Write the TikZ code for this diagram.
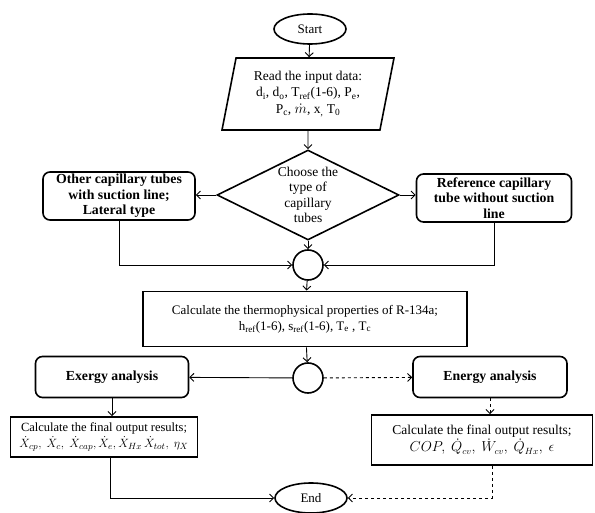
\documentclass[tikz,border=0pt]{standalone}
\usepackage{amsmath}
\usepackage{amssymb}
\usepackage{fontspec}
\setmainfont{Liberation Serif}
\usetikzlibrary{arrows.meta,shapes.geometric,positioning}

\begin{document}
\begin{tikzpicture}[->,>={Straight Barb[length=4pt,width=8pt]},x=1pt,y=-1pt,
      line width=0.9pt,font=\fontsize{13}{16}\selectfont,
      term/.style={ellipse,draw,line width=1.6pt,minimum width=72pt,minimum height=30pt,inner sep=0pt},
      io/.style={trapezium,trapezium left angle=73,trapezium right angle=107,draw,line width=1.6pt,
        align=center,trapezium stretches body,minimum width=172pt,minimum height=72pt,inner sep=0pt,
        font=\fontsize{13.5}{16.5}\selectfont},
      choice/.style={diamond,draw,line width=1.6pt,aspect=2,align=center,inner sep=0pt,
        minimum width=182pt,minimum height=90pt,font=\fontsize{13.5}{15.5}\selectfont},
      rbox/.style={rectangle,rounded corners=7pt,draw,line width=1.6pt,align=center,inner sep=1pt,
        font=\fontsize{13.8}{15.5}\selectfont\bfseries},
      sbox/.style={rectangle,draw,line width=1.9pt,align=center,inner sep=1pt},
      junc/.style={circle,draw,line width=1.6pt,minimum size=30pt,inner sep=0pt},
      dashline/.style={dashed}]
    \useasboundingbox (0,0) rectangle (595,513);
    \node[term] (start) at (310,29) {Start};
    \node[io] (input) at (308,94) {Read the input data:\\
      d\textsubscript{i}, d\textsubscript{o}, T\textsubscript{ref}(1-6), P\textsubscript{e},\\
      P\textsubscript{c}, $\dot{m}$, x\textsubscript{,} T\textsubscript{0}};
    \node[choice] (type) at (308,195) {Choose the\\type of\\capillary\\tubes};
    \node[rbox,minimum width=152pt,minimum height=48pt] (other) at (119,196)
      {Other capillary tubes\\with suction line;\\Lateral type};
    \node[rbox,minimum width=155pt,minimum height=48pt] (ref) at (494,198)
      {Reference capillary\\tube without suction\\line};
    \node[junc] (j1) at (308,265) {};
    \node[sbox,minimum width=324pt,minimum height=55pt] (props) at (305,319)
      {Calculate the thermophysical properties of R-134a;\\
      h\textsubscript{ref}(1-6), s\textsubscript{ref}(1-6), T\textsubscript{e} , T\textsubscript{c}};
    \node[junc] (j2) at (308,378) {};
    \node[rbox,minimum width=153pt,minimum height=41pt] (exergy) at (112,377) {Exergy analysis};
    \node[rbox,minimum width=154pt,minimum height=41pt] (energy) at (490,377) {Energy analysis};
    \node[sbox,minimum width=187pt,minimum height=40pt,font=\fontsize{12.5}{15.5}\selectfont] (outx) at (104,437)
      {Calculate the final output results;\\
      $\dot{X}_{cp},\ \dot{X}_{c},\ \dot{X}_{cap},\dot{X}_{e},\dot{X}_{Hx}\,\dot{X}_{tot},\ \eta_{X}$};
    \node[sbox,minimum width=221pt,minimum height=50pt,font=\fontsize{13.5}{17}\selectfont] (oute) at (482,440)
      {Calculate the final output results;\\
      $COP,\ \dot{Q}_{cv},\ \dot{W}_{cv},\ \dot{Q}_{Hx},\ \epsilon$};
    \node[term] (end) at (311,498) {End};

    \path (start) edge (input)
    (input) edge (type)
    (type) edge (j1)
    (type.west) edge (type.west -| other.east)
    (type.east) edge (type.east -| ref.west)
    (props) edge (j2)
    (j1) edge (props)
    (j2) edge (exergy)
    (j2) edge [dashline] (energy);
    \draw (other.south) |- (j1.west);
    \draw (ref.south) |- (j1.east);
    \draw (exergy.south) -- (exergy.south |- outx.north);
    \draw[dashline] (energy.south) -- (energy.south |- oute.north);
    \draw ([xshift=6pt]outx.south) |- (end.west);
    \draw[dashline] ([xshift=10pt]oute.south) |- (end.east);
  \end{tikzpicture}
\end{document}
